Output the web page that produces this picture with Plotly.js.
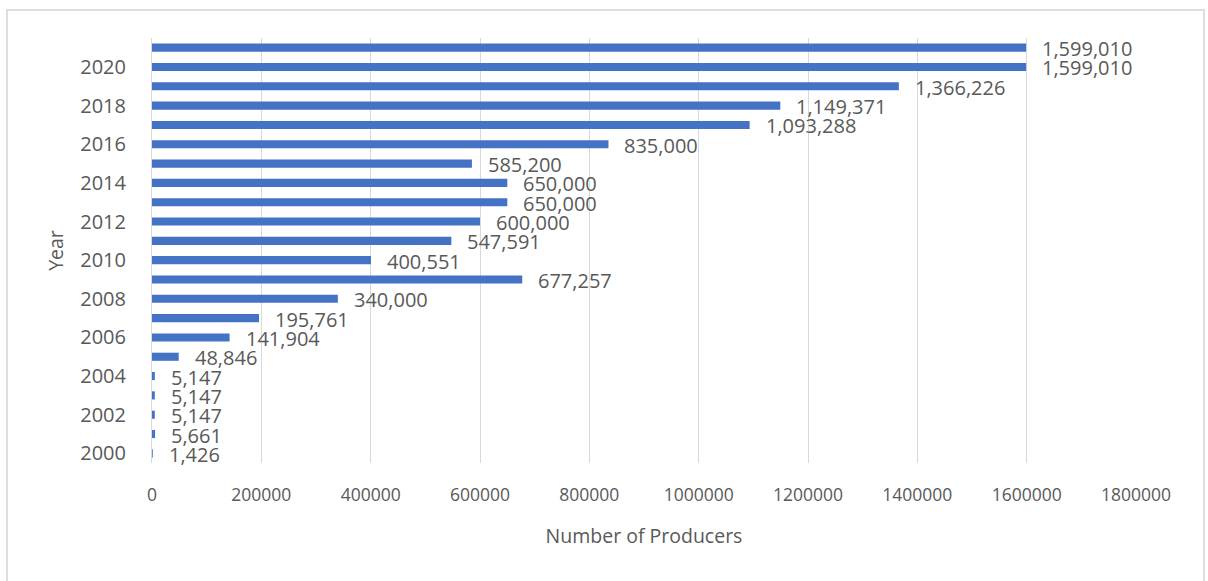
<!DOCTYPE html>
<html>
<head>
<meta charset="utf-8">
<script src="https://cdn.plot.ly/plotly-3.0.1.min.js"></script>
<style>
  html, body { margin: 0; padding: 0; background: #fff; }
  #frame { position: absolute; left: 6px; top: 9px; width: 1199px; height: 600px; border: 2px solid #dedede; box-sizing: border-box; }
  #chart { position: absolute; left: 0; top: 0; width: 1208px; height: 581px; }
</style>
</head>
<body>
<div id="frame"></div>
<div id="chart"></div>
<script>
const years = [2000, 2001, 2002, 2003, 2004, 2005, 2006, 2007, 2008, 2009, 2010,
               2011, 2012, 2013, 2014, 2015, 2016, 2017, 2018, 2019, 2020, 2021];
const producers = [1426, 5661, 5147, 5147, 5147, 48846, 141904, 195761, 340000, 677257, 400551,
                   547591, 600000, 650000, 650000, 585200, 835000, 1093288, 1149371, 1366226, 1599010, 1599010];
const yTickYears = [2000, 2002, 2004, 2006, 2008, 2010, 2012, 2014, 2016, 2018, 2020];
const xTickValues = [0, 200000, 400000, 600000, 800000, 1000000, 1200000, 1400000, 1600000, 1800000];

const fontFamily = '"Open Sans", "Noto Sans", sans-serif';
const textColor = '#595959';

const trace = {
  type: 'bar',
  orientation: 'h',
  x: producers,
  y: years,
  width: 0.42,
  marker: { color: '#4472C4' },
  hoverinfo: 'x+y'
};

const annotations = producers.map((v, i) => ({
  x: v, y: years[i], xref: 'x', yref: 'y',
  text: v.toLocaleString('en-US'),
  showarrow: false, xanchor: 'left', yanchor: 'middle', xshift: 14, yshift: -1,
  font: { family: fontFamily, size: 20, color: textColor }
}));

const layout = {
  width: 1208, height: 581,
  margin: { l: 152, r: 72, t: 38, b: 118 },
  paper_bgcolor: 'rgba(0,0,0,0)',
  plot_bgcolor: 'rgba(0,0,0,0)',
  showlegend: false,
  xaxis: {
    range: [0, 1800000],
    tickvals: xTickValues,
    ticktext: xTickValues.map(String),
    showgrid: true, gridcolor: '#d9d9d9', gridwidth: 1,
    zeroline: false, showline: false,
    ticks: 'outside', ticklen: 16, tickcolor: 'rgba(0,0,0,0)',
    tickfont: { family: fontFamily, size: 17.5, color: textColor },
    title: { text: 'Number of Producers', font: { family: fontFamily, size: 19.5, color: textColor }, standoff: 24 },
    automargin: false,
    fixedrange: true
  },
  yaxis: {
    range: [1999.5, 2021.5],
    tickvals: yTickYears,
    ticktext: yTickYears.map(String),
    showgrid: false,
    zeroline: false,
    showline: true, linecolor: '#d9d9d9', linewidth: 1,
    ticks: 'outside', ticklen: 21, tickcolor: 'rgba(0,0,0,0)',
    tickfont: { family: fontFamily, size: 20, color: textColor },
    title: { text: 'Year', font: { family: fontFamily, size: 19.5, color: textColor }, standoff: 11 },
    automargin: false,
    fixedrange: true
  },
  annotations: annotations
};

Plotly.newPlot('chart', [trace], layout, { displayModeBar: false, staticPlot: true });
</script>
</body>
</html>
